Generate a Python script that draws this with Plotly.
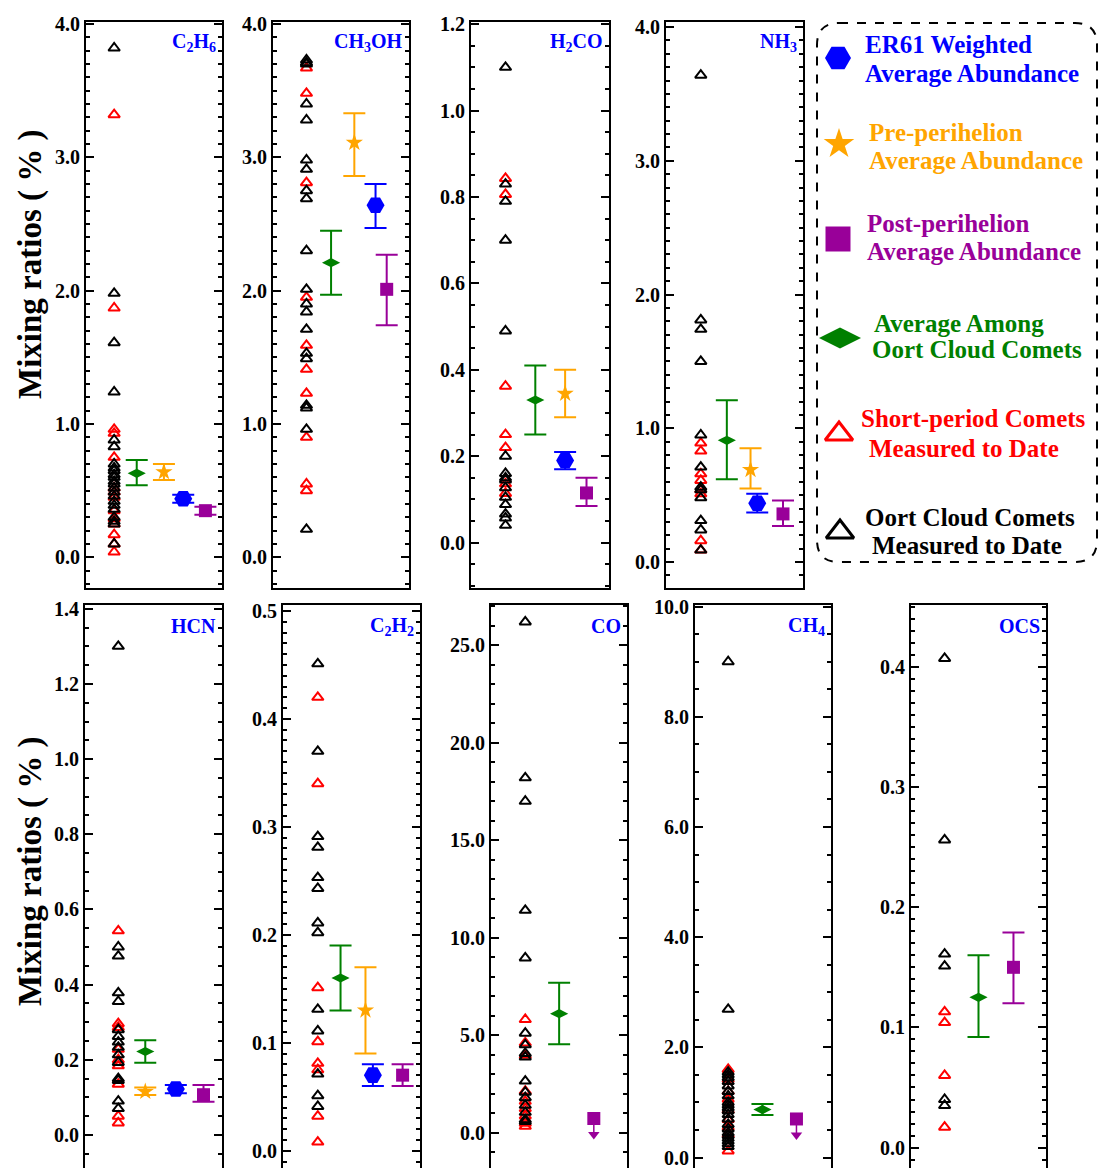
import plotly.graph_objects as go

# ------------------------------------------------------------------ data
MOLECULES = ["C2H6", "CH3OH", "H2CO", "NH3", "HCN", "C2H2", "CO", "CH4", "OCS"]
MOL_LABELS = ["C<sub>2</sub>H<sub>6</sub>", "CH<sub>3</sub>OH", "H<sub>2</sub>CO",
              "NH<sub>3</sub>", "HCN", "C<sub>2</sub>H<sub>2</sub>", "CO",
              "CH<sub>4</sub>", "OCS"]

# Oort cloud comets measured to date (black triangles)
OORT_C2H6 = [3.82, 1.98, 1.61, 1.24, 0.88, 0.83, 0.70, 0.67, 0.65, 0.62, 0.60, 0.57,
             0.55, 0.52, 0.49, 0.46, 0.42, 0.39, 0.36, 0.30, 0.27, 0.25, 0.10]
OORT_CH3OH = [3.73, 3.71, 3.70, 3.40, 3.28, 2.98, 2.91, 2.75, 2.69, 2.30, 2.01, 1.90,
              1.84, 1.71, 1.53, 1.49, 1.14, 1.12, 0.96, 0.21]
OORT_H2CO = [1.10, 0.83, 0.79, 0.70, 0.49, 0.20, 0.16, 0.15, 0.145, 0.127, 0.105,
             0.088, 0.066, 0.057, 0.04]
OORT_NH3 = [3.64, 1.81, 1.74, 1.50, 0.95, 0.71, 0.56, 0.54, 0.48, 0.31, 0.24, 0.09]
OORT_HCN = [1.30, 0.50, 0.476, 0.378, 0.355, 0.28, 0.262, 0.247, 0.233, 0.213, 0.193,
            0.15, 0.145, 0.09, 0.07]
OORT_C2H2 = [0.451, 0.37, 0.291, 0.281, 0.253, 0.243, 0.211, 0.202, 0.131, 0.111,
             0.071, 0.051, 0.041]
OORT_CO = [26.2, 18.2, 17.0, 11.4, 8.96, 5.1, 4.5, 4.06, 3.87, 2.64, 2.07, 1.79, 1.4,
           1.04, 0.66, 0.57]
OORT_CH4 = [9.0, 2.69, 1.55, 1.5, 1.45, 1.38, 1.3, 1.2, 1.12, 1.0, 0.95, 0.9, 0.85,
            0.78, 0.7, 0.6, 0.52, 0.45, 0.4, 0.35, 0.3, 0.25, 0.2]
OORT_OCS = [0.407, 0.256, 0.161, 0.151, 0.04, 0.035]

# Short-period comets measured to date (red triangles)
SP_C2H6 = [3.32, 1.87, 0.96, 0.93, 0.75, 0.52, 0.49, 0.45, 0.35, 0.29, 0.25, 0.17,
           0.10, 0.04]
SP_CH3OH = [3.67, 3.48, 2.81, 1.95, 1.59, 1.41, 1.23, 0.90, 0.55, 0.50]
SP_H2CO = [0.843, 0.806, 0.362, 0.25, 0.22, 0.136, 0.114]
SP_NH3 = [0.89, 0.83, 0.66, 0.61, 0.54, 0.51, 0.16, 0.09]
SP_HCN = [0.543, 0.296, 0.286, 0.228, 0.20, 0.184, 0.135, 0.05, 0.032]
SP_C2H2 = [0.42, 0.34, 0.151, 0.101, 0.081, 0.075, 0.032, 0.008]
SP_CO = [5.8, 4.6, 3.96, 2.13, 1.6, 1.23, 0.85, 0.47, 0.32]
SP_CH4 = [1.6, 1.42, 1.2, 1.06, 0.86, 0.69, 0.55, 0.42, 0.12]
SP_OCS = [0.113, 0.104, 0.06, 0.017]

# Average among Oort cloud comets (green diamond)
OORT_AVG = [0.63, 2.21, 0.33, 0.91, 0.222, 0.16, 6.1, 0.87, 0.125]
OORT_AVG_HI = [0.73, 2.45, 0.41, 1.21, 0.252, 0.19, 7.68, 0.97, 0.16]
OORT_AVG_LO = [0.54, 1.97, 0.25, 0.62, 0.192, 0.13, 4.53, 0.77, 0.092]
# Pre-perihelion average (orange star)
PRE_AVG = [0.64, 3.11, 0.345, 0.69, 0.115, 0.13, None, None, None]
PRE_AVG_HI = [0.70, 3.33, 0.40, 0.85, 0.126, 0.17, None, None, None]
PRE_AVG_LO = [0.58, 2.86, 0.29, 0.55, 0.106, 0.09, None, None, None]
# ER61 weighted average (blue hexagon)
ER61_AVG = [0.44, 2.64, 0.19, 0.44, 0.122, 0.07, None, None, None]
ER61_AVG_HI = [0.47, 2.80, 0.21, 0.51, 0.133, 0.08, None, None, None]
ER61_AVG_LO = [0.41, 2.47, 0.17, 0.37, 0.111, 0.06, None, None, None]
# Post-perihelion average (purple square); CO and CH4 are upper limits
POST_AVG = [0.35, 2.01, 0.115, 0.36, 0.107, 0.07, 0.72, 0.70, 0.15]
POST_AVG_HI = [0.38, 2.27, 0.15, 0.46, 0.133, 0.08, None, None, 0.179]
POST_AVG_LO = [0.32, 1.74, 0.085, 0.27, 0.088, 0.06, None, None, 0.12]
POST_UPPER_LIMIT = [False, False, False, False, False, False, True, True, False]

OORT_MEAS = [OORT_C2H6, OORT_CH3OH, OORT_H2CO, OORT_NH3, OORT_HCN, OORT_C2H2,
             OORT_CO, OORT_CH4, OORT_OCS]
SP_MEAS = [SP_C2H6, SP_CH3OH, SP_H2CO, SP_NH3, SP_HCN, SP_C2H2, SP_CO, SP_CH4, SP_OCS]

# ------------------------------------------------------------------ layout / style
W, H = 1099, 1168
FONT = "Liberation Serif"
BLUE, ORANGE, PURPLE, GREEN, RED = "#0000FF", "#FFA500", "#990099", "#008000", "#FF0000"

# panel frames in pixels: left, right, top, bottom
FRAMES = [(86, 222, 22, 588), (273, 409, 22, 588), (471, 609, 22, 588), (666, 803, 22, 588),
          (85, 222, 605, 1168), (283, 420, 605, 1168), (491, 627, 605, 1168),
          (695, 831, 605, 1168), (911, 1046, 605, 1168)]
YRANGES = [(-0.23, 4.015), (-0.23, 4.015), (-0.105, 1.205), (-0.194, 4.038),
           (-0.088, 1.41), (-0.016, 0.5055), (-1.82, 27.07), (-0.19, 10.03),
           (-0.017, 0.4515)]
DTICKS = [1, 1, 0.2, 1, 0.2, 0.1, 5, 2, 0.1]
MINOR_DTICKS = [0.1, 0.1, 0.05, 0.1, 0.05, 0.01, 1, 0.5, 0.01]
# horizontal placement (fraction of panel width): triangles, oort avg, pre, er61, post
XPOS = [(0.207, 0.373, 0.573, 0.715, 0.878),
        (0.246, 0.427, 0.598, 0.754, 0.836),
        (0.250, 0.466, 0.682, 0.682, 0.837),
        (0.254, 0.444, 0.617, 0.666, 0.854),
        (0.243, 0.440, 0.440, 0.663, 0.865),
        (0.254, 0.420, 0.602, 0.656, 0.873),
        (0.252, 0.501, None, None, 0.756),
        (0.244, 0.496, None, None, 0.746),
        (0.249, 0.500, None, None, 0.759)]

fig = go.Figure()
annotations = []
layout_axes = {}


def err(mean, hi, lo, color):
    return dict(type="data", symmetric=False, array=[hi - mean], arrayminus=[mean - lo],
                color=color, thickness=2, width=11)


for i, mol in enumerate(MOLECULES):
    k = i + 1
    xa, ya = f"x{k}", f"y{k}"
    l, r, t, b = FRAMES[i]
    xt, xo, xp, xe, xq = XPOS[i]
    top_row = i < 4

    # triangles
    fig.add_trace(go.Scatter(
        x=[xt] * len(SP_MEAS[i]), y=SP_MEAS[i], mode="markers", xaxis=xa, yaxis=ya,
        marker=dict(symbol="triangle-up-open", size=10, color=RED, line=dict(width=2))))
    fig.add_trace(go.Scatter(
        x=[xt] * len(OORT_MEAS[i]), y=OORT_MEAS[i], mode="markers", xaxis=xa, yaxis=ya,
        marker=dict(symbol="triangle-up-open", size=10, color="black", line=dict(width=2))))
    # Oort average
    fig.add_trace(go.Scatter(
        x=[xo], y=[OORT_AVG[i]], mode="markers", xaxis=xa, yaxis=ya,
        error_y=err(OORT_AVG[i], OORT_AVG_HI[i], OORT_AVG_LO[i], GREEN),
        marker=dict(symbol="diamond-wide", size=13, color=GREEN)))
    if PRE_AVG[i] is not None:
        fig.add_trace(go.Scatter(
            x=[xp], y=[PRE_AVG[i]], mode="markers", xaxis=xa, yaxis=ya,
            error_y=err(PRE_AVG[i], PRE_AVG_HI[i], PRE_AVG_LO[i], ORANGE),
            marker=dict(symbol="star", size=13, color=ORANGE)))
    if ER61_AVG[i] is not None:
        fig.add_trace(go.Scatter(
            x=[xe], y=[ER61_AVG[i]], mode="markers", xaxis=xa, yaxis=ya,
            error_y=err(ER61_AVG[i], ER61_AVG_HI[i], ER61_AVG_LO[i], BLUE),
            marker=dict(symbol="hexagon2", size=18, color=BLUE)))
    if POST_UPPER_LIMIT[i]:
        span = YRANGES[i][1] - YRANGES[i][0]
        off = 16 * span / (b - t)
        fig.add_trace(go.Scatter(
            x=[xq, xq], y=[POST_AVG[i], POST_AVG[i] - off], mode="lines",
            xaxis=xa, yaxis=ya, line=dict(color=PURPLE, width=1.5)))
        fig.add_trace(go.Scatter(
            x=[xq], y=[POST_AVG[i] - off], mode="markers", xaxis=xa, yaxis=ya,
            marker=dict(symbol="triangle-down", size=10, color=PURPLE)))
        fig.add_trace(go.Scatter(
            x=[xq], y=[POST_AVG[i]], mode="markers", xaxis=xa, yaxis=ya,
            marker=dict(symbol="square", size=13, color=PURPLE)))
    else:
        fig.add_trace(go.Scatter(
            x=[xq], y=[POST_AVG[i]], mode="markers", xaxis=xa, yaxis=ya,
            error_y=err(POST_AVG[i], POST_AVG_HI[i], POST_AVG_LO[i], PURPLE),
            marker=dict(symbol="square", size=13, color=PURPLE)))

    xdom = [l / W, r / W]
    ydom = [max(0.0, 1 - b / H), 1 - t / H]
    xax = dict(domain=xdom, range=[0, 1], anchor=ya, showticklabels=False, ticks="",
               showgrid=False, zeroline=False, showline=True, linewidth=2,
               linecolor="black", fixedrange=True)
    if top_row:
        xax["mirror"] = True
    else:
        xax["side"] = "top"
        xax["mirror"] = False
    yax = dict(domain=ydom, range=list(YRANGES[i]), anchor=xa, showgrid=False,
               zeroline=False, showline=True, linewidth=2, linecolor="black",
               mirror="ticks", ticks="inside", ticklen=8, tickwidth=2, tickcolor="black",
               tick0=0, dtick=DTICKS[i], tickformat=".1f", ticklabeloverflow="allow",
               tickfont=dict(family=FONT, size=20, color="black", weight="bold"),
               minor=dict(dtick=MINOR_DTICKS[i], tick0=0, ticks="inside", ticklen=4,
                          tickwidth=1.5, tickcolor="black"),
               fixedrange=True)
    layout_axes[f"xaxis{k}"] = xax
    layout_axes[f"yaxis{k}"] = yax

    annotations.append(dict(
        text=MOL_LABELS[i], xref="paper", yref="paper", x=(r - 4) / W,
        y=1 - (t + 21) / H, xanchor="right", yanchor="middle", showarrow=False,
        font=dict(family=FONT, size=20, color=BLUE, weight="bold")))

# y-axis titles
for yc in (265, 872):
    annotations.append(dict(
        text="Mixing ratios ( % )", xref="paper", yref="paper", x=30 / W, y=1 - yc / H,
        xanchor="center", yanchor="middle", textangle=-90, showarrow=False,
        font=dict(family=FONT, size=33, color="black", weight="bold")))

# ------------------------------------------------------------------ legend box
LEG_L, LEG_R, LEG_T, LEG_B = 817, 1097, 23, 562
LEGEND_ITEMS = [
    # symbol, size, color, line width, marker centre (px), text lines, text anchors (px)
    ("hexagon2", 26, BLUE, 0, (838, 58), ["ER61 Weighted", "Average Abundance"],
     [(863, 44), (863, 73)]),
    ("star", 23, ORANGE, 0, (839, 144), ["Pre-perihelion", "Average Abundance"],
     [(867, 132), (867, 160)]),
    ("square", 25, PURPLE, 0, (838, 239), ["Post-perihelion", "Average Abundance"],
     [(865, 223), (865, 252)]),
    ("diamond-wide", 30, GREEN, 0, (840, 338), ["Average Among", "Oort Cloud Comets"],
     [(872, 323), (870, 350)]),
    ("triangle-up-open", 24, RED, 3, (839, 434), ["Short-period Comets", "Measured to Date"],
     [(859, 418), (867, 449)]),
    ("triangle-up-open", 24, "black", 3, (840, 532), ["Oort Cloud Comets", "Measured to Date"],
     [(863, 517), (870, 545)]),
]
layout_axes["xaxis10"] = dict(domain=[LEG_L / W, 1.0], range=[LEG_L, LEG_L + (1 - LEG_L / W) * W],
                              visible=False, fixedrange=True, anchor="y10")
layout_axes["yaxis10"] = dict(domain=[1 - 580 / H, 1 - 0 / H], range=[580, 0],
                              visible=False, fixedrange=True, anchor="x10")
for sym, size, color, lw, (mx, my), lines, anchors in LEGEND_ITEMS:
    fig.add_trace(go.Scatter(
        x=[mx], y=[my], mode="markers", xaxis="x10", yaxis="y10",
        marker=dict(symbol=sym, size=size, color=color, line=dict(width=lw, color=color))))
    for txt, (tx, ty) in zip(lines, anchors):
        annotations.append(dict(
            text=txt, xref="paper", yref="paper", x=tx / W, y=1 - ty / H,
            xanchor="left", yanchor="middle", showarrow=False,
            font=dict(family=FONT, size=25, color=color, weight="bold")))

rx, ry = 22 / W, 22 / H
x0, x1 = LEG_L / W, LEG_R / W
y0, y1 = 1 - LEG_B / H, 1 - LEG_T / H
path = (f"M {x0 + rx} {y1} L {x1 - rx} {y1} Q {x1} {y1} {x1} {y1 - ry} "
        f"L {x1} {y0 + ry} Q {x1} {y0} {x1 - rx} {y0} L {x0 + rx} {y0} "
        f"Q {x0} {y0} {x0} {y0 + ry} L {x0} {y1 - ry} Q {x0} {y1} {x0 + rx} {y1} Z")

fig.update_layout(
    width=W, height=H, margin=dict(l=0, r=0, t=0, b=0),
    paper_bgcolor="white", plot_bgcolor="white", showlegend=False,
    template="none", annotations=annotations,
    shapes=[dict(type="path", path=path, xref="paper", yref="paper",
                 line=dict(color="black", width=2, dash="dash"))],
    **layout_axes)

fig.write_html("out.html", config={"displayModeBar": False})
